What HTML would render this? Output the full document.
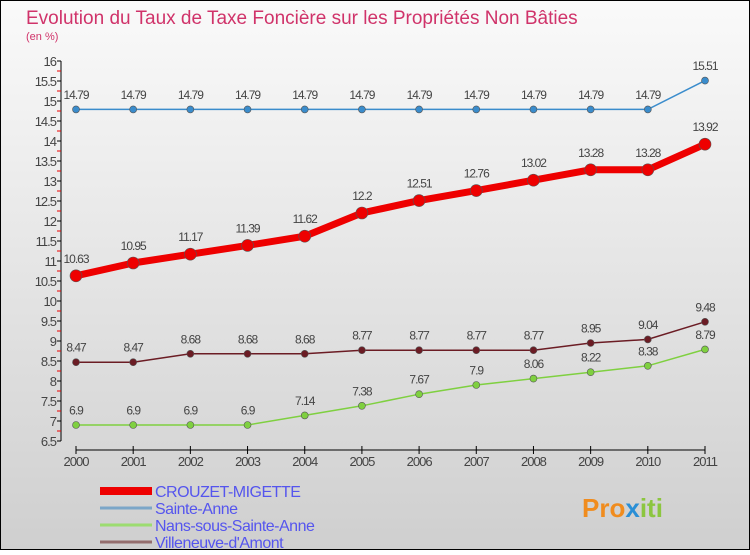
<!DOCTYPE html>
<html><head><meta charset="utf-8"><style>
body{margin:0;width:750px;height:550px;overflow:hidden;font-family:"Liberation Sans",sans-serif}
svg text{font-family:"Liberation Sans",sans-serif}
</style></head><body>
<svg id="c" width="750" height="550" xmlns="http://www.w3.org/2000/svg">
<defs><linearGradient id="bg" x1="0" y1="0" x2="0" y2="1"><stop offset="0" stop-color="#fafafa"/><stop offset="1" stop-color="#cfcfcf"/></linearGradient></defs>
<rect x="0.5" y="0.5" width="749" height="549" fill="url(#bg)" stroke="#000"/>
<text x="26" y="24" font-size="19" fill="#d0336a">Evolution du Taux de Taxe Foncière sur les Propriétés Non Bâties</text>
<text x="26" y="40" font-size="11" fill="#d0336a">(en %)</text>
<g id="axes"></g><g id="series"></g><g id="legend"></g>
<text x="582" y="517" font-size="26" font-weight="bold" fill="#f08c1e">Pro<tspan fill="#2a8fd6">x</tspan><tspan fill="#8cc63f">iti</tspan></text>
</svg>
<script>
const years=[2000,2001,2002,2003,2004,2005,2006,2007,2008,2009,2010,2011];
const yTicks=[6.5,7,7.5,8,8.5,9,9.5,10,10.5,11,11.5,12,12.5,13,13.5,14,14.5,15,15.5,16];
const crouzet=[10.63,10.95,11.17,11.39,11.62,12.2,12.51,12.76,13.02,13.28,13.28,13.92];
const sainteAnne=[14.79,14.79,14.79,14.79,14.79,14.79,14.79,14.79,14.79,14.79,14.79,15.51];
const nans=[6.9,6.9,6.9,6.9,7.14,7.38,7.67,7.9,8.06,8.22,8.38,8.79];
const villeneuve=[8.47,8.47,8.68,8.68,8.68,8.77,8.77,8.77,8.77,8.95,9.04,9.48];
const seriesNames=["CROUZET-MIGETTE","Sainte-Anne","Nans-sous-Sainte-Anne","Villeneuve-d'Amont"];
const NS="http://www.w3.org/2000/svg";
const x=i=>76+i*(705-76)/(years.length-1);
const y=v=>61+(16-v)*40;
function mk(p,t,a){const e=document.createElementNS(NS,t);for(const k in a)e.setAttribute(k,a[k]);p.appendChild(e);return e;}
const ax=document.getElementById('axes');
let yl=mk(ax,'line',{x1:61,y1:61,x2:61,y2:441,stroke:'#000'});


yTicks.forEach(v=>{
 mk(ax,'line',{x1:57,x2:61,y1:y(v),y2:y(v),stroke:'#000'});
 if(v<16)mk(ax,'line',{x1:57,x2:61,y1:y(v)-10,y2:y(v)-10,stroke:'#e00'});
 const t=mk(ax,'text',{x:56,y:y(v)+5,'text-anchor':'end','font-size':13,fill:'#444','letter-spacing':'-1'});
 t.textContent=v;
 
 
});
let xl=mk(ax,'line',{x1:76,y1:450,x2:705,y2:450,stroke:'#000'});


years.forEach((yr,i)=>{
 mk(ax,'line',{x1:x(i),x2:x(i),y1:446,y2:454,stroke:'#000'});
 const t=mk(ax,'text',{x:x(i),y:466,'text-anchor':'middle','font-size':13,fill:'#444','letter-spacing':'-1'});
 t.textContent=yr;
 
 
});
const sg=document.getElementById('series');
function draw(vals,col,w,r,name){
 const g=mk(sg,'g',{});
 
 
 mk(g,'polyline',{points:vals.map((v,i)=>x(i)+','+y(v)).join(' '),fill:'none',stroke:col,'stroke-width':w});
 vals.forEach((v,i)=>{
  const c=mk(g,'circle',{cx:x(i),cy:y(v),r:r,fill:col,stroke:'#555','stroke-width':0.6});
  
  
  const t=mk(g,'text',{x:x(i),y:y(v)-(r+7),'text-anchor':'middle','font-size':12,fill:'#444','letter-spacing':'-1'});
  t.textContent=v;
  
  
 });
}
draw(sainteAnne,'#3a8ccc',1.5,3.5,'series-sainte-anne');
draw(villeneuve,'#6b1c24',1.5,3.5,'series-villeneuve');
draw(nans,'#7fd040',1.5,3.5,'series-nans');
draw(crouzet,'#ee0000',7,6,'series-crouzet');
const lg=document.getElementById('legend');
const lc=['#ee0000','#7ba6c8','#9cdc70','#946e6e'];const lw=[8,3,3,3];
seriesNames.forEach((n,i)=>{
 const yy=491+i*17;
 const g=mk(lg,'g',{});
 
 
 mk(g,'line',{x1:100,x2:152,y1:yy,y2:yy,stroke:lc[i],'stroke-width':lw[i]});
 const t=mk(g,'text',{x:155,y:yy+6,'font-size':16,fill:'#5555ee','letter-spacing':'-0.5'});
 t.textContent=n;
});
</script>
</body></html>
